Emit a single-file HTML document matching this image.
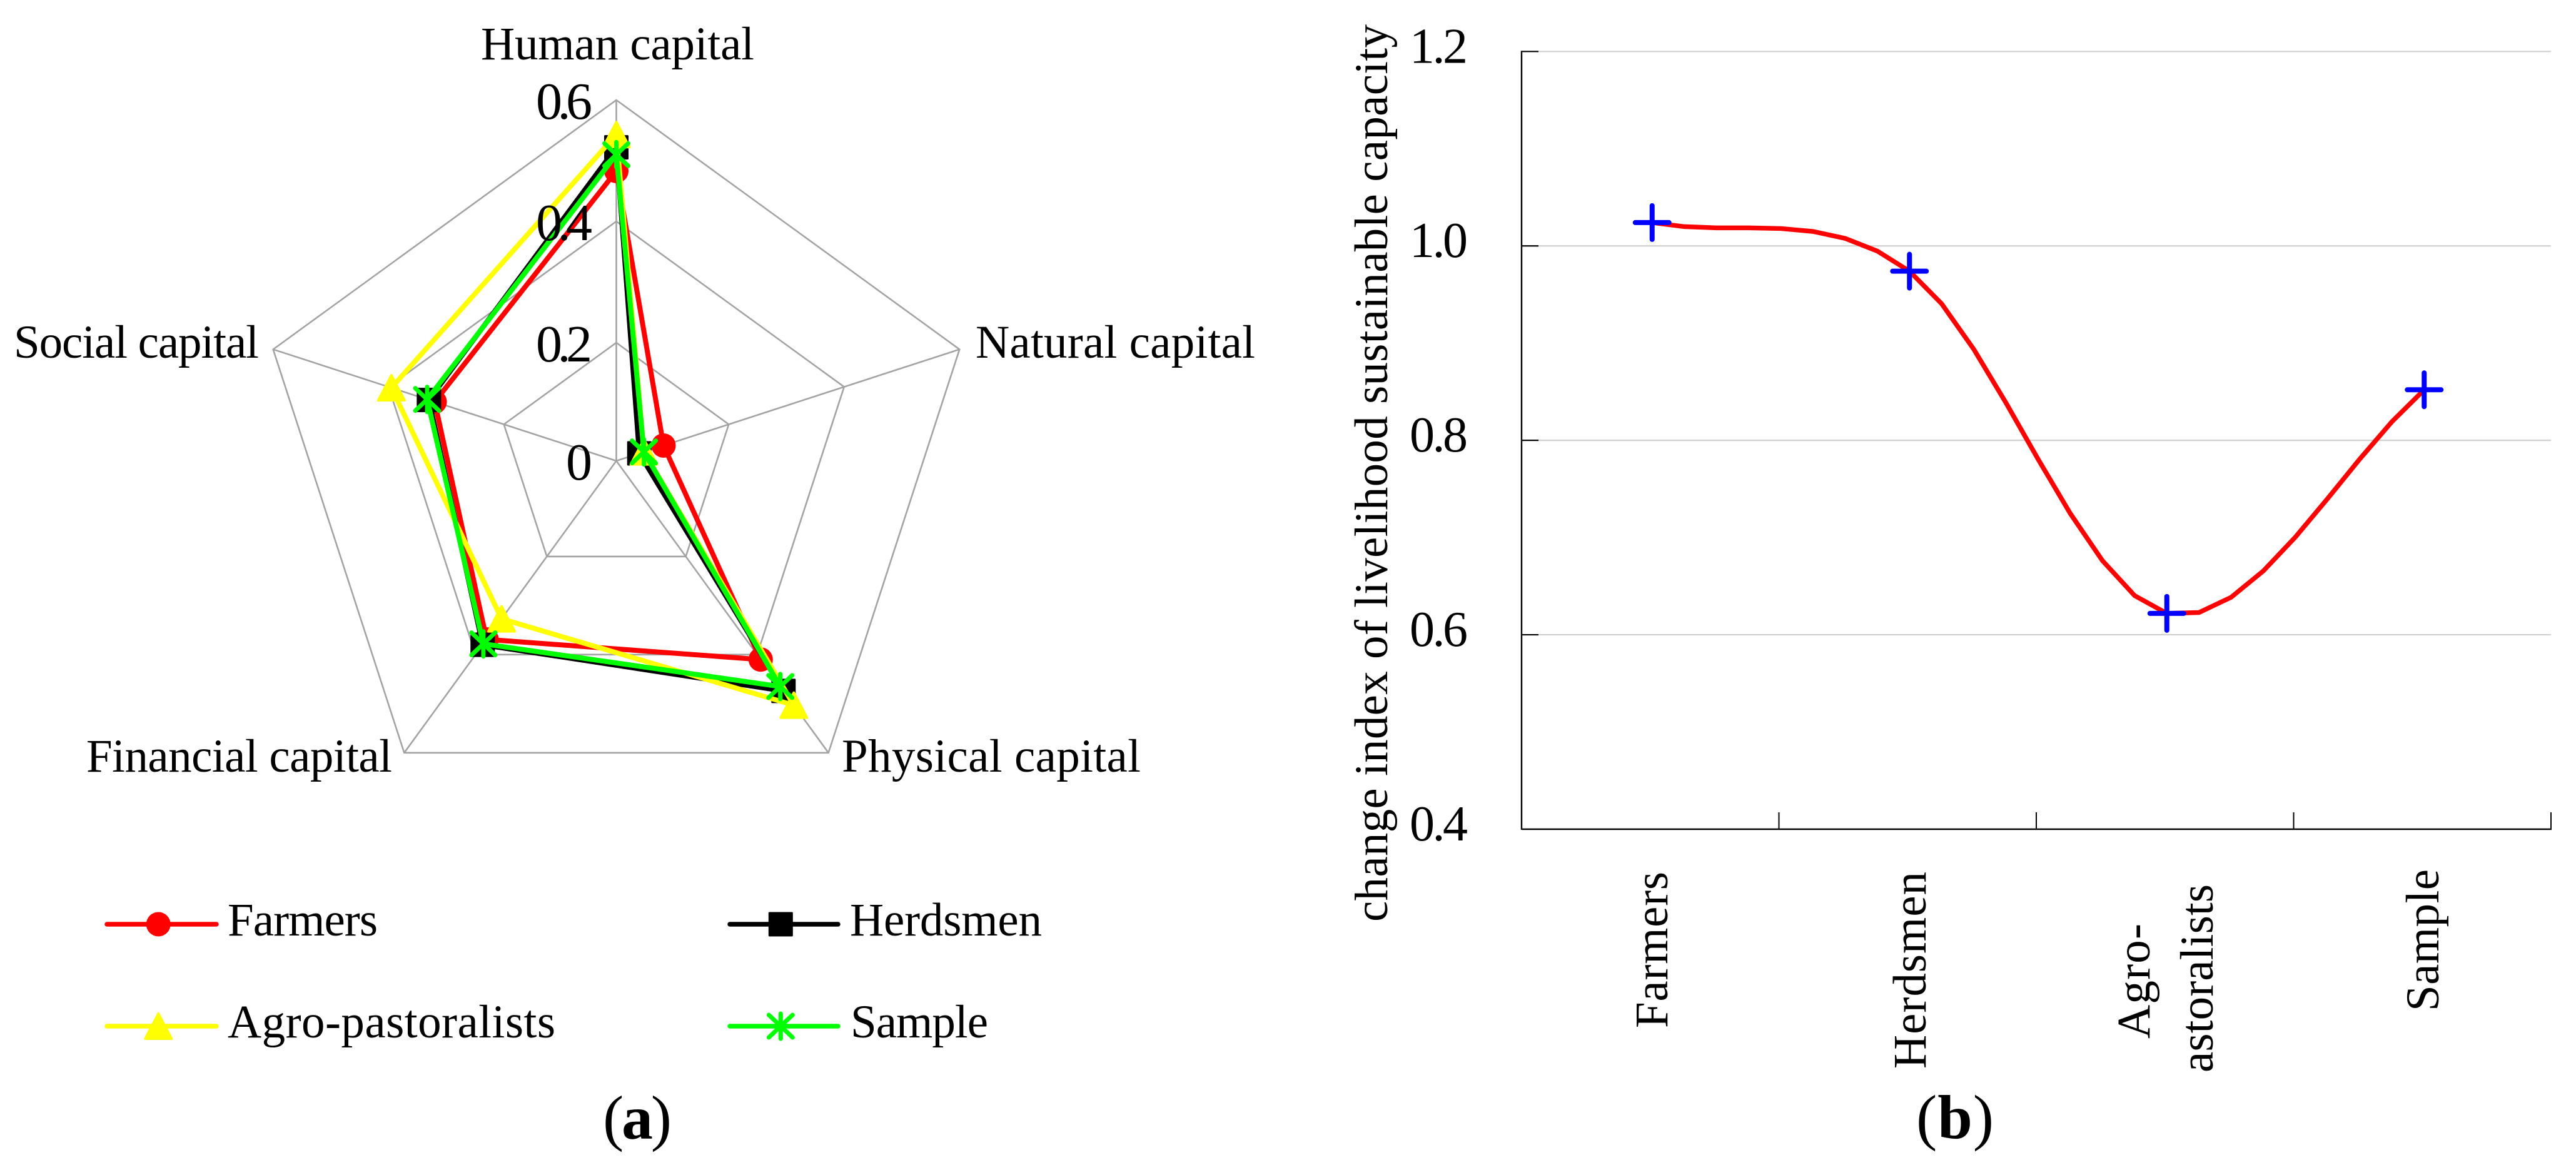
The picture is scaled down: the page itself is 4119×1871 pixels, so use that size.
<!DOCTYPE html>
<html lang="en">
<head>
<meta charset="utf-8">
<title>Livelihood capital radar chart and sustainable capacity line chart</title>
<style>
  html, body { margin: 0; padding: 0; background: #fff; width: 4119px; height: 1871px; overflow: hidden; }
  svg { display: block; }
  text { font-family: "Liberation Serif", "Times New Roman", serif; fill: #000; }
</style>
</head>
<body>
<svg id="figure" xmlns="http://www.w3.org/2000/svg" width="4119" height="1871" viewBox="0 0 4119 1871">
  <rect width="4119" height="1871" fill="#fff"/>
  <g id="radar-grid"></g>
  <g id="radar-series"></g>

  <g font-size="75">
    <text x="769" y="95" textLength="437">Human capital</text>
    <text x="1560" y="572" textLength="447">Natural capital</text>
    <text x="1346" y="1234" textLength="478">Physical capital</text>
    <text x="138" y="1234" textLength="489">Financial capital</text>
    <text x="22" y="572" textLength="392">Social capital</text>
  </g>
  <g id="radar-ticks" font-size="84"></g>

  <g id="legend" font-size="75"></g>

  <text x="964" y="1821" font-size="100" textLength="110">(<tspan font-weight="bold">a</tspan>)</text>

  <g id="line-grid"></g>
  <g id="line-series"></g>
  <g id="line-ticks" font-size="80"></g>

  <text transform="translate(2218 1474) rotate(-90)" font-size="75" textLength="1435">change index of livelihood sustainable capacity</text>

  <g font-size="75">
    <text transform="translate(2666 1644) rotate(-90)" textLength="250">Farmers</text>
    <text transform="translate(3079 1709) rotate(-90)" textLength="315">Herdsmen</text>
    <text transform="translate(3437 1661) rotate(-90)" textLength="184">Agro-</text>
    <text transform="translate(3538 1715) rotate(-90)" textLength="301">astoralists</text>
    <text transform="translate(3899 1617) rotate(-90)" textLength="227">Sample</text>
  </g>

  <text x="3064" y="1820" font-size="100" textLength="124">(<tspan font-weight="bold">b</tspan>)</text>
</svg>

<script>
// Panel (a): values per axis, in order Human, Natural, Physical, Financial, Social
const radarAxes = ['Human capital', 'Natural capital', 'Physical capital', 'Financial capital', 'Social capital'];
const radarTicks = [0, 0.2, 0.4, 0.6];
const radarTickLabels = ['0', '0.2', '0.4', '0.6'];
const farmersValues = [0.483, 0.087, 0.410, 0.369, 0.320];
const herdsmenValues = [0.522, 0.045, 0.474, 0.380, 0.330];
const agroValues = [0.543, 0.053, 0.503, 0.327, 0.395];
const sampleValues = [0.510, 0.053, 0.465, 0.378, 0.333];

// Panel (b)
const lineCategories = ['Farmers', 'Herdsmen', 'Agro-astoralists', 'Sample'];
const lineValues = [1.024, 0.974, 0.622, 0.852];
const lineTicks = [0.4, 0.6, 0.8, 1.0, 1.2];
const lineTickLabels = ['0.4', '0.6', '0.8', '1.0', '1.2'];

const SVG_NS = 'http://www.w3.org/2000/svg';
function make(tag, attrs, parent) {
  const node = document.createElementNS(SVG_NS, tag);
  for (const k in attrs) node.setAttribute(k, attrs[k]);
  parent.appendChild(node);
  return node;
}

/* ---------- radar scales ---------- */
const RX = 985.5, RY = 737;
function radarR(v) { return Math.max(0, 970 * v - 5); }
function radarAngle(i) { return i * 2 * Math.PI / radarAxes.length; }
function radarX(i, v) { return RX + radarR(v) * Math.sin(radarAngle(i)); }
function radarY(i, v) { return RY - radarR(v) * Math.cos(radarAngle(i)); }

const radarGrid = document.getElementById('radar-grid');
const radarMax = radarTicks[radarTicks.length - 1];
radarAxes.forEach(function (name, i) {
  const spoke = make('line', { x1: RX, y1: RY, x2: radarX(i, radarMax), y2: radarY(i, radarMax), stroke: '#a3a3a3', 'stroke-width': 2.6 }, radarGrid);
  
  
});
radarTicks.forEach(function (t) {
  if (t === 0) return;
  const pts = radarAxes.map(function (_, i) { return radarX(i, t) + ',' + radarY(i, t); }).join(' ');
  const ring = make('polygon', { points: pts, fill: 'none', stroke: '#a3a3a3', 'stroke-width': 2.6 }, radarGrid);
  
  
});

/* ---------- markers ---------- */
function drawMarker(kind, x, y, color, parent) {
  if (kind === 'circle') {
    return make('ellipse', { cx: x, cy: y, rx: 19.5, ry: 19.5, fill: color }, parent);
  }
  if (kind === 'square') {
    return make('rect', { x: x - 19.5, y: y - 19.5, width: 39, height: 39, rx: 1.5, fill: color }, parent);
  }
  if (kind === 'triangle') {
    const d = (x) + ',' + (y - 20) + ' ' + (x + 21) + ',' + (y + 20) + ' ' + (x - 21) + ',' + (y + 20);
    return make('polygon', { points: d, fill: color, stroke: color, 'stroke-width': 4, 'stroke-linejoin': 'round' }, parent);
  }
  const star = make('g', { stroke: color, 'stroke-width': 7, 'stroke-linecap': 'round', fill: 'none' }, parent);
  make('line', { x1: x, y1: y - 20, x2: x, y2: y + 20 }, star);
  make('line', { x1: x - 19, y1: y - 18, x2: x + 19, y2: y + 18 }, star);
  make('line', { x1: x - 19, y1: y + 18, x2: x + 19, y2: y - 18 }, star);
  return star;
}

/* ---------- radar series ---------- */
const radarSeriesGroup = document.getElementById('radar-series');
function drawRadarSeries(values, color, kind, slug) {
  const g = make('g', {}, radarSeriesGroup);
  
  
  const pts = values.map(function (v, i) { return radarX(i, v) + ',' + radarY(i, v); }).join(' ');
  const outline = make('polygon', { points: pts, fill: 'none', stroke: color, 'stroke-width': 8, 'stroke-linejoin': 'round' }, g);
  
  
  values.forEach(function (v, i) {
    const m = drawMarker(kind, radarX(i, v), radarY(i, v), color, g);
    
    
  });
}
drawRadarSeries(farmersValues, '#ff0000', 'circle', 'farmers');
drawRadarSeries(herdsmenValues, '#000000', 'square', 'herdsmen');
drawRadarSeries(agroValues, '#ffff00', 'triangle', 'agro-pastoralists');
drawRadarSeries(sampleValues, '#00ff00', 'star', 'sample');

const radarTickGroup = document.getElementById('radar-ticks');
radarTicks.forEach(function (t, i) {
  const label = radarTickLabels[i];
  const attrs = { x: 947, y: radarY(0, t) + 30, 'text-anchor': 'end' };
  if (label.length > 1) attrs.textLength = 90;
  const tx = make('text', attrs, radarTickGroup);
  tx.textContent = label;
  
  
});

/* ---------- legend ---------- */
const legendGroup = document.getElementById('legend');
function drawLegendEntry(name, color, kind, x1, x2, y, tx, tw, slug) {
  const g = make('g', {}, legendGroup);
  
  
  make('line', { x1: x1, y1: y, x2: x2, y2: y, stroke: color, 'stroke-width': 7.5, 'stroke-linecap': 'round' }, g);
  drawMarker(kind, x1 + (x2 - x1) * 0.47, y, color, g);
  const t = make('text', { x: tx, y: y + 18, textLength: tw }, g);
  t.textContent = name;
}
drawLegendEntry('Farmers', '#ff0000', 'circle', 171, 346, 1478, 364, 240, 'farmers');
drawLegendEntry('Herdsmen', '#000000', 'square', 1167, 1340, 1478, 1359, 307, 'herdsmen');
drawLegendEntry('Agro-pastoralists', '#ffff00', 'triangle', 171, 346, 1641, 364, 524, 'agro-pastoralists');
drawLegendEntry('Sample', '#00ff00', 'star', 1167, 1340, 1641, 1360, 220, 'sample');

/* ---------- line chart scales ---------- */
const AX_L = 2433, AX_R = 4079, AX_T = 82.3, AX_B = 1326;
const Y_MIN = lineTicks[0], Y_MAX = lineTicks[lineTicks.length - 1];
function lineY(v) { return AX_T + (Y_MAX - v) / (Y_MAX - Y_MIN) * (AX_B - AX_T); }
function bandW() { return (AX_R - AX_L) / lineCategories.length; }
function lineX(i) { return AX_L + bandW() * (i + 0.5) + 3; }

const lineGrid = document.getElementById('line-grid');
lineTicks.forEach(function (t) {
  if (t !== Y_MIN) {
    const gl = make('line', { x1: AX_L + 27, y1: lineY(t), x2: AX_R, y2: lineY(t), stroke: '#cfcfcf', 'stroke-width': 2.2 }, lineGrid);
    
    
    const tk = make('line', { x1: AX_L, y1: lineY(t), x2: AX_L + 27, y2: lineY(t), stroke: '#000', 'stroke-width': 2.2 }, lineGrid);
    
    
  }
});
const yAxis = make('line', { x1: AX_L, y1: AX_T - 1, x2: AX_L, y2: AX_B + 1, stroke: '#000', 'stroke-width': 2.4 }, lineGrid);


const xAxis = make('line', { x1: AX_L, y1: AX_B, x2: AX_R + 1, y2: AX_B, stroke: '#000', 'stroke-width': 2.4 }, lineGrid);


lineCategories.forEach(function (_, i) {
  const x = AX_L + bandW() * (i + 1);
  const tk = make('line', { x1: x, y1: AX_B - 27, x2: x, y2: AX_B, stroke: '#000', 'stroke-width': 2 }, lineGrid);
  
  
});

/* smoothed line: spline through the category values, flattened into 8 chords per span */
const linePts = lineValues.map(function (v, i) { return [lineX(i), lineY(v)]; });
const curvePts = [];
const lastIdx = linePts.length - 1;
for (let i = 0; i < lastIdx; i++) {
  const p1 = linePts[i], p2 = linePts[i + 1];
  const c1 = [0, 1].map(function (k) {
    return i === 0 ? p1[k] + (p2[k] - p1[k]) / 3 : p1[k] + (p2[k] - linePts[i - 1][k]) / 6;
  });
  const c2 = [0, 1].map(function (k) {
    return i + 1 === lastIdx ? p2[k] - (p2[k] - p1[k]) / 3 : p2[k] - (linePts[i + 2][k] - p1[k]) / 6;
  });
  for (let s = (i === 0 ? 0 : 1); s <= 8; s++) {
    const t = s / 8, u = 1 - t;
    const b0 = u * u * u, b1 = 3 * u * u * t, b2 = 3 * u * t * t, b3 = t * t * t;
    curvePts.push((b0 * p1[0] + b1 * c1[0] + b2 * c2[0] + b3 * p2[0]) + ',' + (b0 * p1[1] + b1 * c1[1] + b2 * c2[1] + b3 * p2[1]));
  }
}
const lineSeries = document.getElementById('line-series');
const redCurve = make('polyline', { points: curvePts.join(' '), fill: 'none', stroke: '#ff0000', 'stroke-width': 7.5, 'stroke-linejoin': 'miter' }, lineSeries);


linePts.forEach(function (p) {
  const plus = make('path', { d: 'M' + (p[0] - 27) + ' ' + p[1] + 'H' + (p[0] + 27) + 'M' + p[0] + ' ' + (p[1] - 27) + 'V' + (p[1] + 27), stroke: '#0000ff', 'stroke-width': 8, 'stroke-linecap': 'round', fill: 'none' }, lineSeries);
  
  
});

const lineTickGroup = document.getElementById('line-ticks');
lineTicks.forEach(function (t, i) {
  const tx = make('text', { x: 2347, y: lineY(t) + 18, 'text-anchor': 'end', textLength: 93 }, lineTickGroup);
  tx.textContent = lineTickLabels[i];
  
  
});
</script>
</body>
</html>
